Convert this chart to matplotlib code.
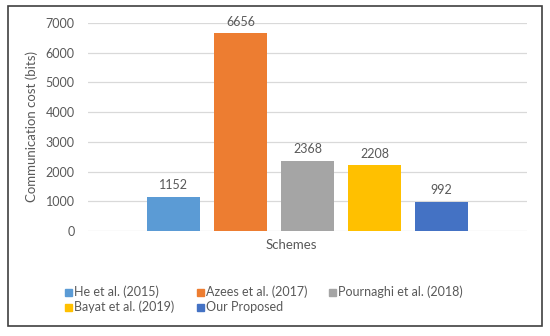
import numpy as np
import matplotlib.pyplot as plt
from matplotlib.patches import Rectangle

# dados
schemes = ['He et al. (2015)', 'Azees et al. (2017)', 'Pournaghi et al. (2018)',
           'Bayat et al. (2019)', 'Our Proposed']
costs = [1152, 6656, 2368, 2208, 992]
colors = ['#5B9BD5', '#ED7D31', '#A5A5A5', '#FFC000', '#4472C4']
yticks = [0, 1000, 2000, 3000, 4000, 5000, 6000, 7000]

txt = '#595959'
plt.rcParams['font.family'] = ['Lato', 'DejaVu Sans']

fig = plt.figure(figsize=(5.5, 3.36), dpi=100)
ax = fig.add_axes([88/550, 1 - 231/336, (527-88)/550, (231-23)/336])

step = 0.1526
width = 0.121
for i, (c, col) in enumerate(zip(costs, colors)):
    x = (i - 2) * step
    ax.bar(x, c, width=width, color=col, label=schemes[i], zorder=3)
    ax.text(x, c + 180, str(c), ha='center', va='bottom', fontsize=9, color=txt)

ax.set_xlim(-0.5, 0.5)
ax.set_ylim(0, 7000)
ax.set_yticks(yticks)
ax.set_xticks([])
ax.tick_params(axis='y', length=0, labelsize=9, labelcolor=txt, pad=9.5)
ax.grid(axis='y', color='#D9D9D9', linewidth=0.9, zorder=0)
for s in ax.spines.values():
    s.set_visible(False)
ax.set_ylabel('Communication cost (bits)', fontsize=9.5, color=txt)
ax.yaxis.set_label_coords(-(88 - 38) / 439, 0.5)

fig.text(291/550, 1 - 245/336, 'Schemes', ha='center', va='center', fontsize=9.5, color=txt)

# legenda
for i, lab in enumerate(schemes):
    row, col = divmod(i, 3)
    x0 = (65 + col * 132) / 550
    y0 = 1 - (292 + row * 15) / 336
    fig.patches.append(Rectangle((x0, y0 - 3.5/336), 7/550, 7/336,
                                 transform=fig.transFigure, color=colors[i]))
    fig.text(x0 + 9/550, y0, lab, ha='left', va='center', fontsize=9, color=txt)

# moldura
fig.patches.append(Rectangle((8/550, 1 - 326/336), 534/550, 320/336,
                             transform=fig.transFigure, fill=False,
                             edgecolor='#404040', linewidth=1.2))

plt.savefig('out.png', dpi=100)
